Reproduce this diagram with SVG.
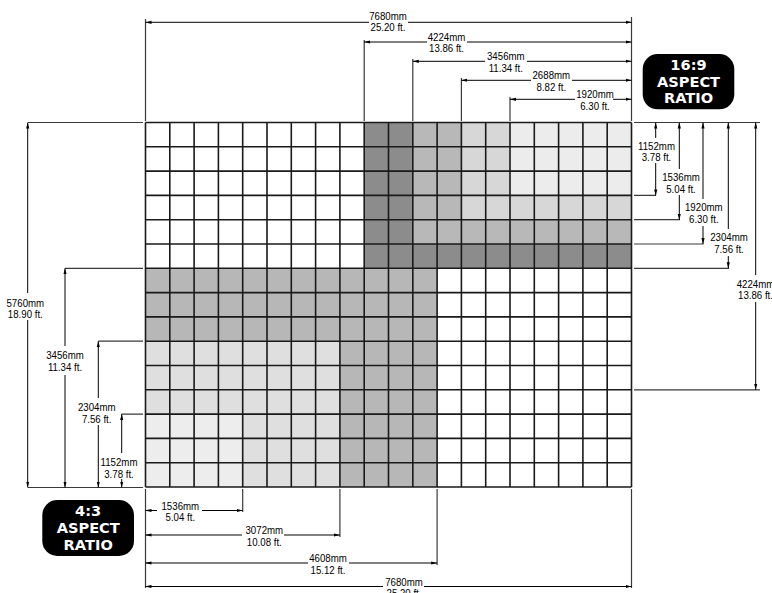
<svg xmlns="http://www.w3.org/2000/svg" width="772" height="593" viewBox="0 0 772 593">
<style>
.d{font-family:"Liberation Sans",Arial,sans-serif;font-size:11.8px;text-anchor:middle;fill:#000}
.b{font-family:"DejaVu Sans","Liberation Sans",sans-serif;font-size:14.6px;font-weight:bold;text-anchor:middle;fill:#fff}
.dim{stroke:#000;stroke-width:1;fill:none;marker-end:url(#ah)}
.ext{stroke:#3a3a3a;stroke-width:1.2;fill:none}
.grid{stroke:#1a1a1a;stroke-width:1.6;fill:none}
</style>
<defs>
<marker id="ah" viewBox="0 0 6 4" refX="6" refY="2" markerWidth="6" markerHeight="4" markerUnits="userSpaceOnUse" orient="auto">
<path d="M0,0.4 L6,2 L0,3.6 z" fill="#000"/>
</marker>
</defs>
<rect width="772" height="593" fill="#fff"/>

<g id="screen">
<g id="fills-16x9">
<rect x="364.2" y="122.5" width="48.6" height="145.8" fill="#8c8c8c"/>
<rect x="412.8" y="244" width="218.7" height="24.3" fill="#8c8c8c"/>
<rect x="412.8" y="122.5" width="48.6" height="121.5" fill="#b8b8b8"/>
<rect x="461.4" y="219.7" width="170.1" height="24.3" fill="#b8b8b8"/>
<rect x="461.4" y="122.5" width="48.6" height="97.2" fill="#d7d7d7"/>
<rect x="510" y="195.4" width="121.5" height="24.3" fill="#d7d7d7"/>
<rect x="510" y="122.5" width="121.5" height="72.9" fill="#ececec"/>
</g>
<g id="fills-4x3">
<rect x="145.5" y="268.3" width="291.6" height="72.9" fill="#b7b7b7"/>
<rect x="339.9" y="341.2" width="97.2" height="145.8" fill="#b7b7b7"/>
<rect x="145.5" y="341.2" width="194.4" height="72.9" fill="#dfdfdf"/>
<rect x="242.7" y="414.1" width="97.2" height="72.9" fill="#dfdfdf"/>
<rect x="145.5" y="414.1" width="97.2" height="72.9" fill="#ededed"/>
</g>
<path class="grid" d="M145.5 122.5V487M169.8 122.5V487M194.1 122.5V487M218.4 122.5V487M242.7 122.5V487M267 122.5V487M291.3 122.5V487M315.6 122.5V487M339.9 122.5V487M364.2 122.5V487M388.5 122.5V487M412.8 122.5V487M437.1 122.5V487M461.4 122.5V487M485.7 122.5V487M510 122.5V487M534.3 122.5V487M558.6 122.5V487M582.9 122.5V487M607.2 122.5V487M631.5 122.5V487
M145.5 122.5H631.5M145.5 146.8H631.5M145.5 171.1H631.5M145.5 195.4H631.5M145.5 219.7H631.5M145.5 244H631.5M145.5 268.3H631.5M145.5 292.6H631.5M145.5 316.9H631.5M145.5 341.2H631.5M145.5 365.5H631.5M145.5 389.8H631.5M145.5 414.1H631.5M145.5 438.4H631.5M145.5 462.7H631.5M145.5 487H631.5"/>
</g>

<g id="connectors">
<g id="extensions">
<path class="ext" d="M145.5 19V121M631.5 17V121M364.2 40V121M412.8 59V121M461.4 78V121M510 97V121"/>
<path class="ext" d="M634 122.5H760M634 195.4H656M634 219.7H680M634 244H703.5M634 268.3H729M634 389.8H760"/>
<path class="ext" d="M28 122.5H143M65 268.3H143M98.3 341.2H143M121.7 414.1H143M28 487.5H143"/>
<path class="ext" d="M145.5 489V588M242.7 489V512M339.9 489V537M437.1 489V565M631.5 489V588"/>
</g>
<g id="dims-top">
<path class="dim" d="M369 22.3H145.5"/><path class="dim" d="M408 22.3H631.5"/>
<path class="dim" d="M427 42H364.2"/><path class="dim" d="M467 42H631.5"/>
<path class="dim" d="M485 61.3H412.8"/><path class="dim" d="M527 61.3H631.5"/>
<path class="dim" d="M531 80.3H461.4"/><path class="dim" d="M572 80.3H631.5"/>
<path class="dim" d="M575 99.3H510"/><path class="dim" d="M613 99.3H631.5"/>
</g>
<g id="dims-right">
<path class="dim" d="M655.7 138V122.5"/><path class="dim" d="M655.7 163V195.4"/>
<path class="dim" d="M679.3 169V122.5"/><path class="dim" d="M679.3 195V219.7"/>
<path class="dim" d="M703 199V122.5"/><path class="dim" d="M703 226V244"/>
<path class="dim" d="M728.3 229V122.5"/><path class="dim" d="M728.3 256V268.3"/>
<path class="dim" d="M755.7 275V122.5"/><path class="dim" d="M755.7 302V389.8"/>
</g>
<g id="dims-left">
<path class="dim" d="M27.7 293V122.5"/><path class="dim" d="M27.7 320V487.5"/>
<path class="dim" d="M65 346V268.3"/><path class="dim" d="M65 375V487.5"/>
<path class="dim" d="M98.3 398V341.2"/><path class="dim" d="M98.3 425V487.5"/>
<path class="dim" d="M121.7 453V414.1"/><path class="dim" d="M121.7 479V487.5"/>
</g>
<g id="dims-bottom">
<path class="dim" d="M157 510.5H145.5"/><path class="dim" d="M202 510.5H242.7"/>
<path class="dim" d="M242 535H145.5"/><path class="dim" d="M284 535H339.9"/>
<path class="dim" d="M308 563H145.5"/><path class="dim" d="M349 563H437.1"/>
<path class="dim" d="M383 586.5H145.5"/><path class="dim" d="M424 586.5H631.5"/>
</g>
</g>

<g id="labels">
<text class="d" transform="translate(388,19.5) scale(0.82,1)"><tspan x="0" y="0">7680mm</tspan><tspan x="0" y="11.8">25.20 ft.</tspan></text>
<text class="d" transform="translate(446.5,40.5) scale(0.82,1)"><tspan x="0" y="0">4224mm</tspan><tspan x="0" y="11.8">13.86 ft.</tspan></text>
<text class="d" transform="translate(505.8,60) scale(0.82,1)"><tspan x="0" y="0">3456mm</tspan><tspan x="0" y="11.8">11.34 ft.</tspan></text>
<text class="d" transform="translate(551.3,79) scale(0.82,1)"><tspan x="0" y="0">2688mm</tspan><tspan x="0" y="11.8">8.82 ft.</tspan></text>
<text class="d" transform="translate(595,98) scale(0.82,1)"><tspan x="0" y="0">1920mm</tspan><tspan x="0" y="11.8">6.30 ft.</tspan></text>

<text class="d" transform="translate(656.5,149.5) scale(0.82,1)"><tspan x="0" y="0">1152mm</tspan><tspan x="0" y="11.8">3.78 ft.</tspan></text>
<text class="d" transform="translate(681,181) scale(0.82,1)"><tspan x="0" y="0">1536mm</tspan><tspan x="0" y="11.8">5.04 ft.</tspan></text>
<text class="d" transform="translate(703.8,211) scale(0.82,1)"><tspan x="0" y="0">1920mm</tspan><tspan x="0" y="11.8">6.30 ft.</tspan></text>
<text class="d" transform="translate(729,241) scale(0.82,1)"><tspan x="0" y="0">2304mm</tspan><tspan x="0" y="11.8">7.56 ft.</tspan></text>
<text class="d" transform="translate(755.5,287.5) scale(0.82,1)"><tspan x="0" y="0">4224mm</tspan><tspan x="0" y="11.8">13.86 ft.</tspan></text>

<text class="d" transform="translate(25.3,306.5) scale(0.82,1)"><tspan x="0" y="0">5760mm</tspan><tspan x="0" y="11.8">18.90 ft.</tspan></text>
<text class="d" transform="translate(65,359.3) scale(0.82,1)"><tspan x="0" y="0">3456mm</tspan><tspan x="0" y="11.8">11.34 ft.</tspan></text>
<text class="d" transform="translate(96.7,411) scale(0.82,1)"><tspan x="0" y="0">2304mm</tspan><tspan x="0" y="11.8">7.56 ft.</tspan></text>
<text class="d" transform="translate(119,466) scale(0.82,1)"><tspan x="0" y="0">1152mm</tspan><tspan x="0" y="11.8">3.78 ft.</tspan></text>

<text class="d" transform="translate(180.3,509.5) scale(0.82,1)"><tspan x="0" y="0">1536mm</tspan><tspan x="0" y="11.8">5.04 ft.</tspan></text>
<text class="d" transform="translate(264.3,534) scale(0.82,1)"><tspan x="0" y="0">3072mm</tspan><tspan x="0" y="11.8">10.08 ft.</tspan></text>
<text class="d" transform="translate(328,562) scale(0.82,1)"><tspan x="0" y="0">4608mm</tspan><tspan x="0" y="11.8">15.12 ft.</tspan></text>
<text class="d" transform="translate(404,585.5) scale(0.82,1)"><tspan x="0" y="0">7680mm</tspan><tspan x="0" y="11.8">25.20 ft.</tspan></text>
</g>

<g id="badge-16x9">
<rect x="642.7" y="54" width="91.6" height="55.3" rx="15" fill="#000"/>
<text class="b" x="688.5" y="69.5">16:9</text>
<text class="b" x="688.5" y="86.5">ASPECT</text>
<text class="b" x="688.5" y="103">RATIO</text>
</g>
<g id="badge-4x3">
<rect x="42.3" y="500" width="91.7" height="56" rx="15" fill="#000"/>
<text class="b" x="88.2" y="515.5">4:3</text>
<text class="b" x="88.2" y="532.5">ASPECT</text>
<text class="b" x="88.2" y="549.5">RATIO</text>
</g>
</svg>
